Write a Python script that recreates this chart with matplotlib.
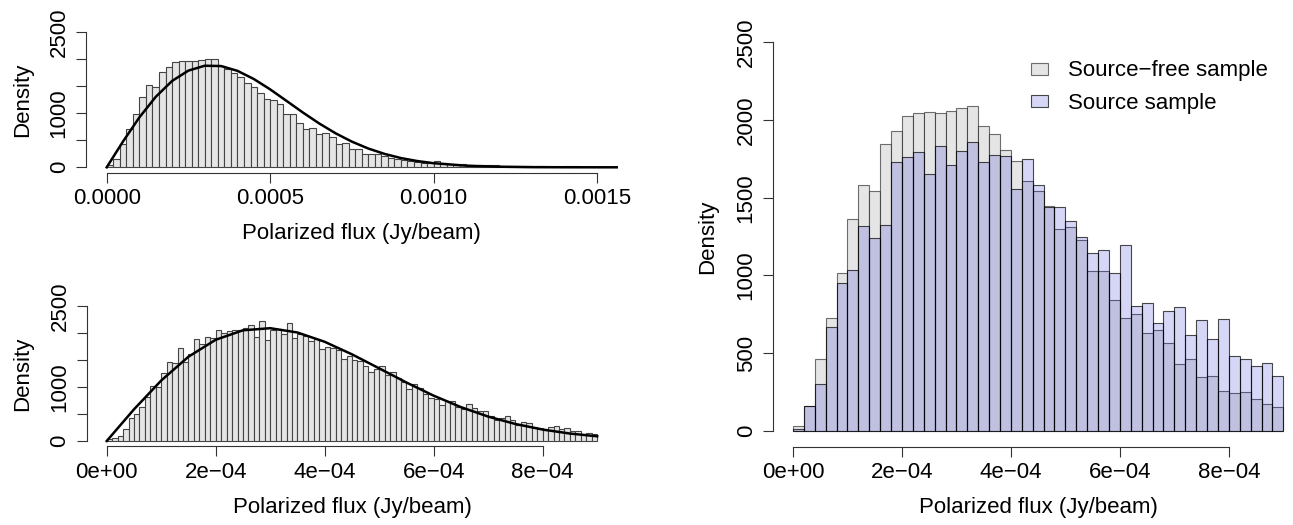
import matplotlib
matplotlib.use("Agg")
import matplotlib.pyplot as plt
import numpy as np

plt.rcParams["font.family"] = ["Liberation Sans", "DejaVu Sans"]

# top-left: source-free sample, bins of 2e-5 Jy/beam
top_bin_width = 2e-5
top_density = [
    37, 154, 440, 704, 978, 1309, 1519, 1481, 1772, 1852,
    1948, 1963, 1975, 1969, 1981, 2000, 2012, 1880, 1821, 1741,
    1667, 1552, 1478, 1374, 1259, 1247, 1179, 988, 988, 815,
    704, 722, 611, 630, 556, 432, 444, 333, 346, 247,
    241, 241, 210, 167, 148, 136, 117, 105, 86, 74,
    111, 74, 56, 49, 56, 37, 31, 43, 49, 43,
    25, 18, 20, 15, 18, 12, 15, 12, 10, 12,
    18, 15, 10, 8, 10, 6, 8, 5,
]
top_curve_x = [0, 0.5e-4, 1.0e-4, 1.5e-4, 2.0e-4, 2.5e-4, 3.0e-4, 3.5e-4, 4.0e-4,
               4.5e-4, 5.0e-4, 5.5e-4, 6.0e-4, 6.5e-4, 7.0e-4, 7.5e-4, 8.0e-4,
               8.5e-4, 9.0e-4, 9.5e-4, 1.0e-3, 1.1e-3, 1.2e-3, 1.3e-3, 1.4e-3, 1.56e-3]
top_curve_y = [0, 479, 925, 1305, 1599, 1791, 1881, 1875, 1786, 1635, 1443, 1230,
               1015, 812, 630, 475, 348, 248, 171, 116, 76, 30, 11, 3, 1, 0]
top_xticks = [0, 0.0005, 0.0010, 0.0015]
top_xlabels = ["0.0000", "0.0005", "0.0010", "0.0015"]

# bottom-left: source-free sample below 9e-4, bins of 1e-5 Jy/beam
bot_bin_width = 1e-5
bot_density = [
    31, 56, 93, 228, 420, 494, 623, 821, 1012, 1006,
    1250, 1472, 1438, 1728, 1472, 1605, 1892, 1796, 1932, 1910,
    2052, 2000, 2040, 2060, 2050, 2090, 2154, 1932, 2230, 1876,
    2052, 2074, 1978, 2185, 1907, 1988, 1948, 1846, 1892, 1710,
    1747, 1728, 1691, 1519, 1580, 1494, 1481, 1383, 1278, 1327,
    1389, 1222, 1284, 1160, 1093, 963, 1062, 988, 877, 790,
    778, 660, 741, 747, 630, 599, 679, 605, 556, 562,
    463, 389, 432, 463, 395, 302, 358, 340, 259, 241,
    204, 253, 284, 216, 235, 191, 185, 130, 154, 136,
]
bot_curve_x = [0, 0.5e-4, 1.0e-4, 1.5e-4, 2.0e-4, 2.5e-4, 3.0e-4, 3.5e-4, 4.0e-4,
               4.5e-4, 5.0e-4, 5.5e-4, 6.0e-4, 6.5e-4, 7.0e-4, 7.5e-4, 8.0e-4,
               8.5e-4, 9.0e-4]
bot_curve_y = [0, 586, 1120, 1561, 1875, 2050, 2089, 2009, 1837, 1605, 1345,
               1083, 839, 627, 452, 315, 212, 138, 87]
sci_xticks = [0, 2e-4, 4e-4, 6e-4, 8e-4]
sci_xlabels = ["0e+00", "2e\u221204", "4e\u221204", "6e\u221204", "8e\u221204"]

# right: source-free vs source sample, bins of 2e-5 Jy/beam
cmp_bin_width = 2e-5
free_density = [
    35, 160, 463, 725, 1014, 1363, 1582, 1545, 1848, 1929,
    2026, 2043, 2049, 2047, 2056, 2077, 2088, 1964, 1908, 1809,
    1739, 1608, 1543, 1450, 1301, 1311, 1227, 1027, 1031, 840,
    725, 750, 628, 650, 568, 429, 461, 349, 356, 257,
    246, 249, 208, 171, 154,
]
source_density = [
    12, 160, 302, 671, 950, 1035, 1318, 1239, 1325, 1728,
    1760, 1792, 1655, 1831, 1711, 1801, 1857, 1728, 1777, 1767,
    1554, 1752, 1582, 1440, 1438, 1349, 1248, 1143, 1164, 1014,
    1196, 802, 821, 693, 772, 795, 617, 714, 590, 722,
    480, 461, 416, 439, 354,
]
legend_labels = ["Source\u2212free sample", "Source sample"]

gray_fill = "#e5e5e5"
blue_fill = (0, 0, 0.8, 0.16)
fs = 16

W, H = 1293, 525
fig = plt.figure(figsize=(W / 100, H / 100), dpi=100)


def r_style(ax, xticks, xlabels, yticks, ylabels, xlab_y, ylab_x):
    for s in ["top", "right"]:
        ax.spines[s].set_visible(False)
    ax.spines["left"].set_bounds(yticks[0], yticks[-1])
    ax.spines["bottom"].set_bounds(xticks[0], xticks[-1])
    for s in ["left", "bottom"]:
        ax.spines[s].set_linewidth(0.8)
        ax.spines[s].set_color("#333333")
    ax.set_xticks(xticks)
    ax.set_xticklabels(xlabels)
    ax.set_yticks(yticks)
    ax.set_yticklabels(ylabels, rotation=90, va="center")
    ax.tick_params(length=7, width=0.8, color="#333333", labelsize=fs)
    ax.tick_params(axis="x", pad=4)
    ax.tick_params(axis="y", pad=5)
    ax.set_xlabel("Polarized flux (Jy/beam)", fontsize=fs, va="center")
    ax.set_ylabel("Density", fontsize=fs, va="center")
    # centre the axis titles on the plot region, at fixed pixel offsets
    pos = ax.get_position()
    ax.xaxis.set_label_coords((pos.x0 + pos.x1) / 2, 1 - xlab_y / H,
                              transform=fig.transFigure)
    ax.yaxis.set_label_coords(ylab_x / W, (pos.y0 + pos.y1) / 2,
                              transform=fig.transFigure)


def hist(ax, width, dens, **kw):
    left = np.arange(len(dens)) * width
    ax.bar(left, dens, width=width, align="edge", **kw)


yt = [0, 500, 1000, 1500, 2000, 2500]

# top-left
ax1 = fig.add_axes([86.3 / W, 1 - 172.7 / H, 550.8 / W, 145.8 / H])
hist(ax1, top_bin_width, top_density, color=gray_fill, edgecolor="#444444", linewidth=0.8)
ax1.plot(top_curve_x, top_curve_y, color="black", lw=1.8)
ax1.set_xlim(-0.04 * 0.00156, 1.04 * 0.00156)
ax1.set_ylim(-100, 2600)
r_style(ax1, top_xticks, top_xlabels, yt, ["0", "", "1000", "", "", "2500"], 234, 23)

# bottom-left
ax2 = fig.add_axes([87.1 / W, 1 - 446.4 / H, 529.7 / W, 145.8 / H])
hist(ax2, bot_bin_width, bot_density, color=gray_fill, edgecolor="#444444", linewidth=0.8)
ax2.plot(bot_curve_x, bot_curve_y, color="black", lw=1.8)
ax2.set_xlim(-0.04 * 9e-4, 1.04 * 9e-4)
ax2.set_ylim(-100, 2600)
r_style(ax2, sci_xticks, sci_xlabels, yt, ["0", "", "1000", "", "", "2500"], 507, 23)

# right
ax3 = fig.add_axes([773.3 / W, 1 - 446.5 / H, 529.7 / W, 419.8 / H])
hist(ax3, cmp_bin_width, free_density, color=gray_fill,
     edgecolor=(0, 0, 0, 0.55), linewidth=0.8, label=legend_labels[0])
hist(ax3, cmp_bin_width, source_density, color=blue_fill,
     edgecolor=(0, 0, 0, 0.7), linewidth=0.8, label=legend_labels[1])
ax3.set_xlim(-0.04 * 9e-4, 1.04 * 9e-4)
ax3.set_ylim(-100, 2600)
r_style(ax3, sci_xticks, sci_xlabels, yt, [str(v) for v in yt], 507, 708)
fig.legend(loc="center left", bbox_to_anchor=(1011 / W, 1 - 87 / H), frameon=False,
           fontsize=fs, handlelength=0.78, handleheight=0.45, handletextpad=0.88,
           labelspacing=0.5, borderpad=0.4)

fig.savefig("out.png", dpi=100)
